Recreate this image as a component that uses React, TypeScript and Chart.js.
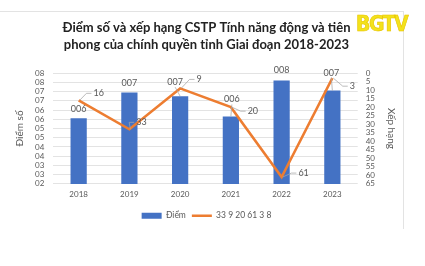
import React, { useEffect, useRef } from "react";
import { Chart, registerables } from "chart.js";

Chart.register(...registerables);

const years = ["2018", "2019", "2020", "2021", "2022", "2023"];
const scores = [5.55, 6.95, 6.75, 5.65, 7.6, 7.05];
const ranks = [16, 33, 9, 20, 61, 3];
const scoreLabel = "Điểm";
const rankLabel = "33 9 20 61 3 8";
const titleLines = [
  "Điểm số và xếp hạng CSTP Tính năng động và tiên",
  "phong của chính quyền tỉnh Giai đoạn 2018-2023",
];

// label placement offsets (dx, dy) relative to the mark anchor
const barLabelOffsets = [[0, -9], [0, -9], [-5, -14], [1, -17], [0, -10], [-1, -18]];
const lineLabelOffsets = [[20, -7], [12, -7], [19, -9], [22, 4], [22, -4], [20, 8]];

const FONT = "Lato, 'Open Sans', sans-serif";
const GRAY = "#595959";

const labelPlugin = {
  id: "customLabels",
  afterDatasetsDraw(chart: any) {
    const ctx = chart.ctx;
    ctx.save();
    ctx.font = `9px ${FONT}`;
    ctx.fillStyle = GRAY;
    ctx.textAlign = "center";
    ctx.textBaseline = "middle";
    ctx.strokeStyle = "#a6a6a6";
    ctx.lineWidth = 0.75;
    const barMeta = chart.getDatasetMeta(0);
    barMeta.data.forEach((el: any, i: number) => {
      const v = chart.data.datasets[0].data[i] as number;
      const txt = String(Math.round(v)).padStart(3, "0");
      const [dx, dy] = barLabelOffsets[i];
      const lx = el.x + dx;
      const ly = el.y + dy;
      if (dy < -12) {
        ctx.beginPath();
        ctx.moveTo(lx, ly + 5);
        ctx.lineTo(el.x, el.y);
        ctx.stroke();
      }
      ctx.fillText(txt, lx, ly);
    });
    const lineMeta = chart.getDatasetMeta(1);
    lineMeta.data.forEach((el: any, i: number) => {
      const v = chart.data.datasets[1].data[i] as number;
      const txt = String(v);
      const [dx, dy] = lineLabelOffsets[i];
      const w = ctx.measureText(txt).width;
      const lx = el.x + dx;
      const ly = el.y + dy;
      const left = lx - w / 2 - 2;
      ctx.beginPath();
      ctx.moveTo(el.x + 1, el.y);
      ctx.lineTo(left - 5, ly);
      ctx.lineTo(left, ly);
      ctx.stroke();
      ctx.fillText(txt, lx, ly);
    });
    ctx.restore();
  },
};

export default function App() {
  const ref = useRef<HTMLCanvasElement | null>(null);
  useEffect(() => {
    if (!ref.current) return;
    const chart = new Chart(ref.current, {
      type: "bar",
      data: {
        labels: years,
        datasets: [
          {
            type: "bar",
            label: scoreLabel,
            data: scores,
            backgroundColor: "#4472C4",
            borderWidth: 0,
            barPercentage: 0.32,
            categoryPercentage: 1,
            yAxisID: "y",
            order: 2,
            pointStyle: "rect",
          } as any,
          {
            type: "line",
            label: rankLabel,
            data: ranks,
            borderColor: "#ED7D31",
            backgroundColor: "#ED7D31",
            borderWidth: 2.5,
            pointRadius: 0,
            tension: 0,
            yAxisID: "y1",
            order: 1,
            pointStyle: "line",
          } as any,
        ],
      },
      options: {
        animation: false,
        responsive: false,
        maintainAspectRatio: false,
        layout: { padding: { left: 14, right: 4, top: 0, bottom: 0 } },
        plugins: {
          title: {
            display: true,
            text: titleLines,
            color: "#222",
            font: { family: FONT, size: 13, weight: "bold", lineHeight: 1.31 },
            padding: { top: 7, bottom: 20 },
          },
          legend: {
            display: true,
            position: "bottom",
            labels: {
              usePointStyle: true,
              pointStyleWidth: 20,
              boxHeight: 6,
              color: GRAY,
              font: { family: FONT, size: 8.5 },
              padding: 6,
              sort: (a: any, b: any) => a.datasetIndex - b.datasetIndex,
            },
          },
          tooltip: { enabled: false },
        },
        scales: {
          x: {
            grid: { display: false, drawTicks: false },
            border: { display: false },
            ticks: { color: GRAY, font: { family: FONT, size: 8 }, padding: 6 },
          },
          y: {
            position: "left",
            min: 2,
            max: 8,
            border: { display: false },
            grid: { color: "#d9d9d9", lineWidth: 0.75, drawTicks: false },
            ticks: {
              stepSize: 0.5,
              autoSkip: false,
              color: GRAY,
              font: { family: FONT, size: 8 },
              padding: 9,
              callback: (v: any) => String(Math.round(Number(v))).padStart(2, "0"),
            },
            title: {
              display: true,
              text: "Điểm số",
              color: GRAY,
              font: { family: FONT, size: 10 },
              padding: 0,
            },
          },
          y1: {
            position: "right",
            min: 0,
            max: 65,
            reverse: true,
            border: { display: false },
            grid: { display: false, drawTicks: false },
            ticks: { stepSize: 5, autoSkip: false, color: GRAY, font: { family: FONT, size: 8 }, padding: 8 },
            title: {
              display: true,
              text: "Xếp hạng",
              color: GRAY,
              font: { family: FONT, size: 10 },
              padding: 2,
            },
          },
        },
      },
      plugins: [labelPlugin],
    });
    return () => chart.destroy();
  }, []);

  return (
    <div style={{ position: "absolute", left: 0, top: 0, width: 425, height: 266, background: "#fff", overflow: "hidden" }}>
      <div style={{ position: "absolute", left: 0, top: 11, width: 404, height: 1, background: "#e3e3e3" }} />
      <div style={{ position: "absolute", left: 403, top: 11, width: 1, height: 218, background: "#e3e3e3" }} />
      <canvas ref={ref} width={403} height={218} style={{ position: "absolute", left: 0, top: 12 }} />
      <div
        style={{
          position: "absolute",
          left: 356,
          top: 13,
          lineHeight: "22px",
          fontFamily: "'Liberation Sans Narrow', 'DejaVu Sans Condensed', sans-serif",
          fontWeight: "bold",
          fontSize: 21,
          color: "#f3e21b",
          letterSpacing: -1.5,
          WebkitTextStroke: "0.6px #e8c400",
        }}
      >
        BGTV
      </div>
    </div>
  );
}
